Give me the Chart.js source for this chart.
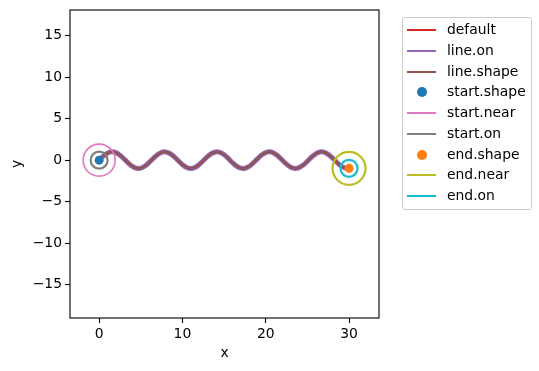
<!DOCTYPE html>
<html>
<head>
<meta charset="utf-8">
<script src="https://cdn.jsdelivr.net/npm/chart.js@4"></script>
<style>
  html, body { margin: 0; padding: 0; background: #fff; }
  #wrap { position: relative; width: 539px; height: 371px; }
  canvas { position: absolute; left: 0; top: 0; }
  #legend { position: absolute; left: 402px; top: 17px; width: 128px; height: 191px;
    border: 1px solid #cccccc; border-radius: 3px; background: rgba(255,255,255,0.8);
    font-family: "DejaVu Sans", sans-serif; font-size: 13.9px; color: #000; }
  .row { position: absolute; left: 0; height: 20px; width: 100%; }
  .h-line { position: absolute; left: 4px; width: 29px; height: 2px; top: 9px; }
  .h-dot { position: absolute; left: 14px; width: 10px; height: 10px; border-radius: 50%; top: 5px; }
  .lbl { position: absolute; left: 44px; top: 1px; white-space: nowrap; }
</style>
</head>
<body>
<div id="wrap">
  <canvas id="c" width="539" height="371"></canvas>
  <div id="legend"></div>
</div>
<script>
// ---- data ----
const xValues = [0,0.5,1,1.5,2,2.5,3,3.5,4,4.5,5,5.5,6,6.5,7,7.5,8,8.5,9,9.5,10,10.5,11,11.5,12,12.5,13,13.5,14,14.5,15,15.5,16,16.5,17,17.5,18,18.5,19,19.5,20,20.5,21,21.5,22,22.5,23,23.5,24,24.5,25,25.5,26,26.5,27,27.5,28,28.5,29,29.5,30];
const yValues = [0,0.479,0.841,0.997,0.909,0.598,0.141,-0.351,-0.757,-0.978,-0.959,-0.706,-0.279,0.215,0.657,0.938,0.989,0.798,0.412,-0.075,-0.544,-0.880,-1.000,-0.875,-0.537,-0.066,0.420,0.804,0.991,0.935,0.650,0.207,-0.288,-0.712,-0.961,-0.978,-0.751,-0.342,0.150,0.605,0.913,0.997,0.837,0.471,-0.009,-0.487,-0.846,-0.998,-0.906,-0.591,-0.132,0.360,0.763,0.980,0.956,0.700,0.271,-0.224,-0.664,-0.941,-0.988];
const startPoint = [0, 0];
const endPoint = [30, -0.988];
const xTicks = [0, 10, 20, 30];
const yTicks = [-15, -10, -5, 0, 5, 10, 15];
const seriesNames = ["default","line.on","line.shape","start.shape","start.near","start.on","end.shape","end.near","end.on"];
const seriesColors = ["#d62728","#9467bd","#8c564b","#1f77b4","#e377c2","#7f7f7f","#ff7f0e","#bcbd22","#17becf"];
const seriesKinds = ["line","line","line","dot","line","line","dot","line","line"];

const curve = xValues.map((x, i) => ({x: x, y: yValues[i]}));
const sp = [{x: startPoint[0], y: startPoint[1]}];
const ep = [{x: endPoint[0], y: endPoint[1]}];

function lineDs(i, w, order) {
  return { label: seriesNames[i], data: curve, showLine: true, borderColor: seriesColors[i],
    borderWidth: w, pointRadius: 0, tension: 0.4, order: order, borderCapStyle: 'butt' };
}
function ptDs(i, data, r, fill, bw, order) {
  return { label: seriesNames[i], data: data, showLine: false, pointStyle: 'circle',
    pointRadius: r, pointHoverRadius: r,
    pointBackgroundColor: fill ? seriesColors[i] : 'rgba(0,0,0,0)',
    pointBorderColor: seriesColors[i], pointBorderWidth: fill ? 0 : bw, order: order };
}

const frame = {
  id: 'frame',
  afterDraw(chart) {
    const a = chart.chartArea, ctx = chart.ctx;
    ctx.save();
    ctx.strokeStyle = '#000'; ctx.lineWidth = 1.1;
    ctx.strokeRect(a.left, a.top, a.right - a.left, a.bottom - a.top);
    ctx.restore();
  }
};

const fmt = v => (v < 0 ? '\u2212' + Math.abs(v) : String(v));
const tickFont = { family: 'DejaVu Sans', size: 13.9 };

new Chart(document.getElementById('c'), {
  type: 'scatter',
  data: { datasets: [
    lineDs(0, 1.5, 9),
    lineDs(1, 5, 8),
    lineDs(2, 2.5, 7),
    ptDs(3, sp, 4.5, true, 0, 6),
    ptDs(4, sp, 16, false, 1.6, 5),
    ptDs(5, sp, 8.5, false, 2.2, 4),
    ptDs(6, ep, 4.5, true, 0, 3),
    ptDs(7, ep, 16.5, false, 2.2, 2),
    ptDs(8, ep, 8.5, false, 2.2, 1)
  ]},
  options: {
    responsive: false, animation: false, events: [],
    layout: { autoPadding: false, padding: { left: 0, top: 10, right: 160, bottom: 0 } },
    plugins: { legend: { display: false }, tooltip: { enabled: false } },
    scales: {
      x: { type: 'linear', min: -3.5, max: 33.6,
        afterBuildTicks: s => { s.ticks = xTicks.map(v => ({value: v})); },
        afterFit: s => { s.height = 53; s.paddingLeft = 0; s.paddingRight = 0; },
        ticks: { callback: fmt, font: tickFont, color: '#000', padding: 3, maxRotation: 0 },
        grid: { display: true, drawOnChartArea: false, drawTicks: true, tickLength: 5, color: '#000', tickWidth: 1.1 },
        border: { display: false },
        title: { display: true, text: 'x', font: tickFont, color: '#000', padding: { top: 2, bottom: 9 } } },
      y: { type: 'linear', min: -19, max: 18.07,
        afterBuildTicks: s => { s.ticks = yTicks.map(v => ({value: v})); },
        afterFit: s => { s.width = 70; s.paddingTop = 0; s.paddingBottom = 0; },
        ticks: { callback: fmt, font: tickFont, color: '#000', padding: 3 },
        grid: { display: true, drawOnChartArea: false, drawTicks: true, tickLength: 5, color: '#000', tickWidth: 1.1 },
        border: { display: false },
        title: { display: true, text: 'y', font: tickFont, color: '#000', padding: { top: 9, bottom: 0 } } }
    }
  },
  plugins: [frame]
});

// HTML legend (real text)
const lg = document.getElementById('legend');
seriesNames.forEach((n, i) => {
  const row = document.createElement('div');
  row.className = 'row';
  row.style.top = (2 + i * 20.75) + 'px';
  const h = document.createElement('div');
  h.className = seriesKinds[i] === 'dot' ? 'h-dot' : 'h-line';
  h.style.background = seriesColors[i];
  const t = document.createElement('div');
  t.className = 'lbl'; t.textContent = n;
  row.appendChild(h); row.appendChild(t);
  lg.appendChild(row);
});
</script>
</body>
</html>
